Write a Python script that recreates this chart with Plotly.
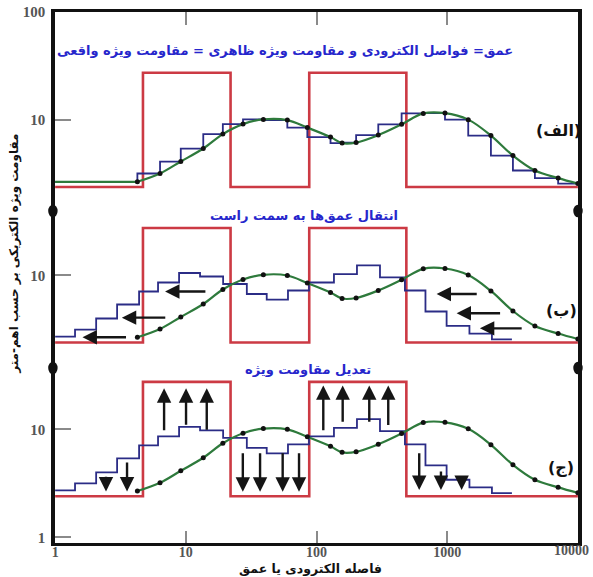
import numpy as np
import plotly.graph_objects as go
from plotly.subplots import make_subplots

# Sounding curve: electrode spacing (m) and apparent resistivity (ohm-m)
spacing = [4.26, 6.35, 9.15, 13.6, 19.2, 27.4, 39.2, 59.8, 85.1, 128, 157, 201,
           297, 448, 656, 962, 1449, 2161, 3185, 4690, 7064, 10000]
rho_apparent = [2.68, 3.20, 4.13, 5.45, 7.42, 9.18, 10.15, 10.0, 8.52, 6.96, 6.12, 6.19,
                7.26, 9.14, 11.53, 11.61, 10.1, 7.19, 4.69, 3.41, 2.90, 2.58]
start_depth = 1.0

# True layered model: layer top depths (m) and resistivities (ohm-m)
model_depth = [1, 4.7, 22, 88, 487, 10000]
model_rho = [2.4, 27.5, 2.4, 27.5, 2.4, 2.4]

# Layer model after shifting depths: layer boundaries (m) and resistivities
shift_depth = [1.0, 1.42, 2.06, 2.98, 4.39, 6.13, 8.88, 12.85, 19.3, 29.3, 41.6,
               60.5, 87.6, 136, 204, 306, 475, 682, 990, 1480, 2200, 3128]
shift_rho = [2.72, 3.16, 4.00, 5.39, 7.11, 8.61, 10.55, 9.79, 8.34, 6.74, 5.99,
             7.26, 8.61, 10.3, 12.4, 9.6, 7.26, 4.64, 3.41, 2.90, 2.56]

# Panel (b) arrows: (tail depth, head depth, resistivity)
shift_arrows = [(14.5, 6.94, 7.11), (7.15, 3.24, 4.07), (3.58, 1.62, 2.68),
                (1728, 830, 6.74), (2608, 1181, 4.47), (3815, 1780, 3.24)]
# Panel (c) arrows: (depth, tail resistivity, head resistivity)
up_arrows = [(6.82, 9.5, 24), (10.04, 10.7, 24), (14.46, 9.6, 24),
             (112.7, 9.5, 25.5), (158.6, 11.4, 25.5), (253.4, 11.4, 25.5), (354, 10.6, 25.5)]
down_arrows = [(1.65, 3.05, 2.8), (2.45, 3.75, 2.66), (3.55, 5.1, 2.66),
               (27.3, 6.2, 2.64), (37.0, 6.2, 2.64), (55.1, 6.2, 2.64), (73.5, 6.2, 2.64),
               (611, 6.2, 2.74), (896, 4.2, 2.74), (1290, 3.39, 2.74)]

x_ticks = [1, 10, 100, 1000, 10000]
x_tick_text = ["1", "10", "100", "1000", "10000"]
panel_titles = [
    "عمق= فواصل الکترودی و مقاومت ویژه ظاهری = مقاومت ویژه واقعی",
    "انتقال عمق\u200cها به سمت راست",
    "تعدیل مقاومت ویژه",
]
panel_labels = ["(الف)", "(ب)", "(ج)"]
y_title = "مقاومت ویژه الکتریکی بر حسب اهم-متر"
x_title = "فاصله الکترودی یا عمق"

RED = "#cc3a44"
BLUE = "#2b2c86"
GREEN = "#2e7a3c"
TITLE_BLUE = "#2626cc"
ARABIC = "DejaVu Sans"

fig = make_subplots(rows=3, cols=1, shared_xaxes=True, vertical_spacing=0)

for row in (1, 2, 3):
    # true model
    fig.add_trace(go.Scatter(x=model_depth, y=model_rho, mode="lines",
                             line=dict(color=RED, width=2.6, shape="hv"),
                             hoverinfo="skip"), row=row, col=1)
    # step layer model
    if row == 1:
        bx = [start_depth] + spacing
        by = [rho_apparent[0]] + rho_apparent
        fig.add_trace(go.Scatter(x=bx, y=by, mode="lines",
                                 line=dict(color=BLUE, width=1.8, shape="vh"),
                                 hoverinfo="skip"), row=row, col=1)
        fig.add_trace(go.Scatter(x=[start_depth, spacing[0]],
                                 y=[rho_apparent[0], rho_apparent[0]], mode="lines",
                                 line=dict(color=GREEN, width=2.2),
                                 hoverinfo="skip"), row=row, col=1)
    else:
        fig.add_trace(go.Scatter(x=shift_depth, y=shift_rho + [shift_rho[-1]], mode="lines",
                                 line=dict(color=BLUE, width=1.8, shape="hv"),
                                 hoverinfo="skip"), row=row, col=1)
    # apparent resistivity curve
    fig.add_trace(go.Scatter(x=spacing, y=rho_apparent, mode="lines+markers",
                             line=dict(color=GREEN, width=2.2, shape="spline"),
                             marker=dict(color="#111111", size=5),
                             hoverinfo="skip"), row=row, col=1)

annotations = []
arrow_style = dict(showarrow=True, text="", arrowhead=2, arrowsize=1.2,
                   arrowwidth=2.4, arrowcolor="#151515", standoff=0, startstandoff=0)
for tail, head, rho in shift_arrows:
    annotations.append(dict(xref="x2", yref="y2", axref="x2", ayref="y2",
                            x=np.log10(head), y=np.log10(rho),
                            ax=np.log10(tail), ay=np.log10(rho), **arrow_style))
for depth, tail, head in up_arrows + down_arrows:
    annotations.append(dict(xref="x3", yref="y3", axref="x3", ayref="y3",
                            x=np.log10(depth), y=np.log10(head),
                            ax=np.log10(depth), ay=np.log10(tail), **arrow_style))

# panel titles and labels
title_pos = [(0.44, 0.927), (0.476, 0.617), (0.484, 0.327)]
label_pos = [(0.962, 0.776), (0.968, 0.437), (0.968, 0.143)]
for text, (px, py) in zip(panel_titles, title_pos):
    annotations.append(dict(xref="paper", yref="paper", x=px, y=py, text=text,
                            showarrow=False, xanchor="center", yanchor="middle",
                            font=dict(family=ARABIC, size=13, color=TITLE_BLUE, weight="bold")))
for text, (px, py) in zip(panel_labels, label_pos):
    annotations.append(dict(xref="paper", yref="paper", x=px, y=py, text=text,
                            showarrow=False, xanchor="center", yanchor="middle",
                            font=dict(family=ARABIC, size=16, color="#111111", weight="bold")))
annotations.append(dict(xref="paper", yref="paper", x=-0.078, y=0.545, text=y_title,
                        textangle=-90, showarrow=False, xanchor="center", yanchor="middle",
                        font=dict(family=ARABIC, size=12, color="#111111", weight="bold")))
annotations.append(dict(xref="paper", yref="paper", x=0.488, y=-0.0475, text=x_title,
                        showarrow=False, xanchor="center", yanchor="middle",
                        font=dict(family=ARABIC, size=12.5, color="#111111", weight="bold")))

x_tick_font = dict(family="Liberation Serif", size=14, color="#555555", weight="bold")
# last x tick label sits flush against the right edge of the frame
annotations.append(dict(xref="x3", yref="paper", x=np.log10(x_ticks[-1]), y=-0.015,
                        text=x_tick_text[-1], showarrow=False, xanchor="right",
                        yanchor="middle", xshift=13, font=x_tick_font))

# panel separator knobs on the frame
shapes = []
for yb in (0.62524, 0.32957):
    for xb in (-0.004, 1.0):
        shapes.append(dict(type="circle", xref="paper", yref="paper",
                           x0=xb - 0.009, x1=xb + 0.009, y0=yb - 0.012, y1=yb + 0.012,
                           fillcolor="#111111", line=dict(color="#111111", width=0)))

tick_font = dict(family="Liberation Serif", size=15, color="#555555", weight="bold")
axis_common = dict(type="log", showgrid=False, zeroline=False, automargin=False)

fig.update_layout(
    width=593, height=577,
    margin=dict(l=55, r=15, t=12, b=34),
    plot_bgcolor="white", paper_bgcolor="white",
    showlegend=False,
    annotations=annotations,
    shapes=shapes,
    xaxis=dict(**axis_common, range=[-0.001, 4.001], side="top", showline=True,
               linecolor="#111111", linewidth=2.5, ticks="inside", ticklen=13,
               tickwidth=2, tickcolor="#8a8a8a", tickvals=[10, 100, 1000],
               showticklabels=False),
    xaxis2=dict(**axis_common, range=[-0.001, 4.001], showline=False, ticks="",
                showticklabels=False),
    xaxis3=dict(**axis_common, range=[-0.001, 4.001], showline=True,
                linecolor="#111111", linewidth=3, ticks="inside", ticklen=12,
                tickwidth=2, tickcolor="#8a8a8a", tickvals=x_ticks[:-1],
                ticktext=x_tick_text[:-1], tickfont=x_tick_font,
                ticklabeloverflow="allow", ticklabelstandoff=-6),
    yaxis=dict(**axis_common, domain=[0.62524, 1.0], range=[0.1574, 2.002],
               showline=True, linecolor="#111111", linewidth=3.5, mirror=True,
               ticks="inside", ticklen=16, tickwidth=2, tickcolor="#8a8a8a",
               tickvals=[10, 100], ticktext=["10", "100"], tickfont=tick_font,
               ticklabeloverflow="allow", ticklabelstandoff=3),
    yaxis2=dict(**axis_common, domain=[0.32957, 0.62524], range=[0.1435, 1.5972],
                showline=True, linecolor="#111111", linewidth=3.5, mirror=True,
                ticks="inside", ticklen=16, tickwidth=2, tickcolor="#8a8a8a",
                tickvals=[10], ticktext=["10"], tickfont=tick_font,
                ticklabelstandoff=3),
    yaxis3=dict(**axis_common, domain=[0.0, 0.32957], range=[-0.0528, 1.5676],
                showline=True, linecolor="#111111", linewidth=3.5, mirror=True,
                ticks="inside", ticklen=16, tickwidth=2, tickcolor="#8a8a8a",
                tickvals=[1, 10], ticktext=["1", "10"], tickfont=tick_font,
                ticklabeloverflow="allow", ticklabelstandoff=3),
)

fig.write_html("out.html")
